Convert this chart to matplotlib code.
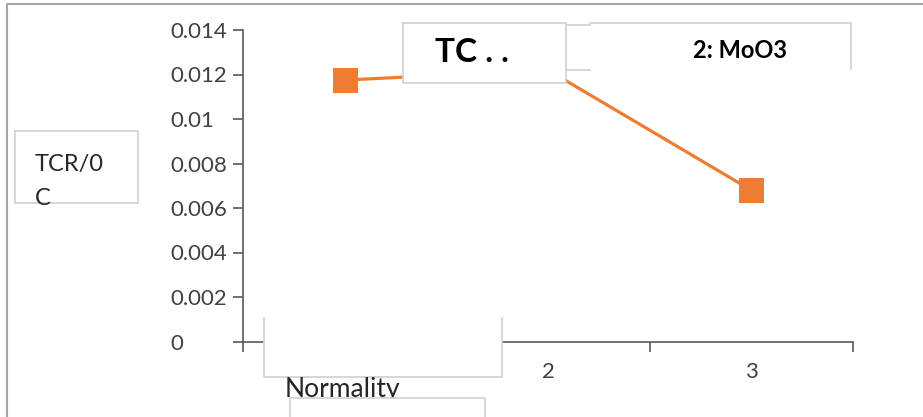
import matplotlib
matplotlib.use("Agg")
import matplotlib.pyplot as plt
from matplotlib.patches import Rectangle
from matplotlib.lines import Line2D

normality = [1, 2, 3]
tcr = [0.01175, 0.0122, 0.0068]
y_ticks = [0, 0.002, 0.004, 0.006, 0.008, 0.01, 0.012, 0.014]
y_tick_labels = ["0", "0.002", "0.004", "0.006", "0.008", "0.01", "0.012", "0.014"]
x_tick_labels = ["1", "2", "3"]

W, H = 923, 417
ORANGE = "#ED7D31"
AXIS = "#595959"
TEXT = "#404040"
EDGE = "#D0D0D0"

plt.rcParams["font.family"] = ["Lato", "DejaVu Sans"]

fig = plt.figure(figsize=(W / 100, H / 100), dpi=100)


def fx(x):
    return x / W


def fy(y):
    return 1 - y / H


ax = fig.add_axes([fx(243), fy(341.5), 610 / W, 311.5 / H])
ax.plot(normality, tcr, color=ORANGE, lw=2.3, marker="s", ms=18,
        markeredgewidth=0, clip_on=False, zorder=3)

ax.set_xlim(0.5, 3.5)
ax.set_ylim(0, 0.014)
for side in ["top", "right"]:
    ax.spines[side].set_visible(False)
for side in ["left", "bottom"]:
    ax.spines[side].set_color(AXIS)
    ax.spines[side].set_linewidth(1.2)

ax.set_yticks(y_ticks)
ax.set_yticklabels(y_tick_labels)
ax.tick_params(axis="y", direction="out", length=7.2, width=1.2, color=AXIS,
               labelsize=16, labelcolor=TEXT, pad=45)
for lab in ax.get_yticklabels():
    lab.set_horizontalalignment("left")

ax.set_xticks([0.5, 1.5, 2.5, 3.5])
ax.set_xticklabels([])
ax.set_xticks(normality, minor=True)
ax.set_xticklabels(x_tick_labels, minor=True)
ax.tick_params(axis="x", which="major", direction="out", length=7.5,
               width=1.2, color=AXIS)
ax.tick_params(axis="x", which="minor", length=0, labelsize=16,
               labelcolor=TEXT, pad=15)
# the "1" label sits under the x-title box in the reference, so it never shows
ax.get_xticklabels(minor=True)[0].set_visible(False)

tr = fig.transFigure


def box(x0, y0, x1, y1, z):
    fig.add_artist(Rectangle((fx(x0), fy(y1)), fx(x1) - fx(x0), fy(y0) - fy(y1),
                             transform=tr, facecolor="white",
                             edgecolor="none", zorder=z))


def edge(xs, ys, z, color=EDGE, lw=1.2):
    fig.add_artist(Line2D([fx(x) for x in xs], [fy(y) for y in ys],
                          transform=tr, color=color, lw=lw, zorder=z))


# outer chart frame
edge([7, 7, 923], [417, 4, 4], 5, color="#A6A6A6", lw=1.5)

# y-axis title box
edge([15, 138, 138, 15, 15], [131, 131, 203, 203, 131], 5)
fig.text(fx(35), fy(171), "TCR/0", fontsize=17, color="#262626",
         ha="left", va="baseline", zorder=6)
fig.text(fx(35), fy(205), "C", fontsize=17, color="#262626",
         ha="left", va="baseline", zorder=6)

# title boxes on top
box(403, 23, 566, 83, 5)
edge([403, 566, 566, 403, 403], [23, 23, 83, 83, 23], 5.1)
fig.text(fx(435), fy(52), "TC . .", fontsize=24, fontweight="bold",
         color="black", ha="left", va="center", zorder=6)
box(567, 22, 851, 69, 4)
edge([567, 590, 590, 851, 851], [25, 25, 23, 23, 69], 4.1)
edge([567, 590], [70, 70], 4.1)
fig.text(fx(693), fy(50), "2: MoO3", fontsize=17, fontweight="bold",
         color="black", ha="left", va="center", zorder=6)

# x-axis title boxes
box(264, 318, 502, 377, 5)
edge([264, 264, 502, 502], [318, 377, 377, 318], 5.1)
fig.text(fx(285), fy(397), "Normality", fontsize=19, color="#262626",
         ha="left", va="baseline", zorder=5.5)
box(290, 398, 485, 417, 6)
edge([290, 290, 485, 485], [417, 398, 398, 417], 6.1)

fig.savefig("out.png", dpi=100)
